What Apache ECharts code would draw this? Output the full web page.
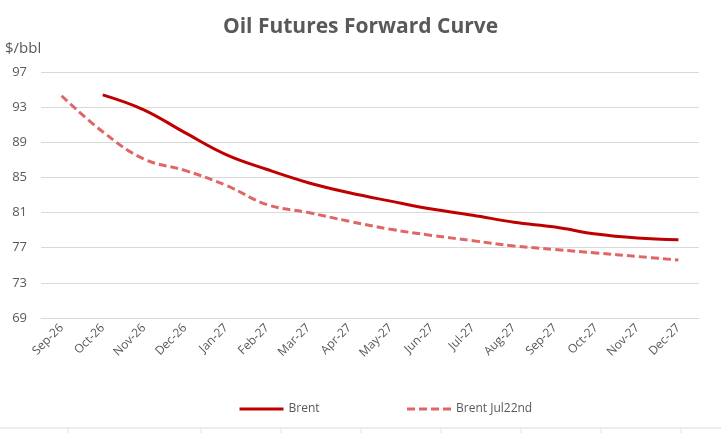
<!DOCTYPE html>
<html>
<head>
<meta charset="utf-8">
<script src="https://cdn.jsdelivr.net/npm/echarts@6/dist/echarts.min.js"></script>
<style>
    html, body { margin: 0; padding: 0; background: #fff; }
    #chart { width: 721px; height: 433px; }
</style>
</head>
<body>
<div id="chart"></div>
<script>
const months = ['Sep-26', 'Oct-26', 'Nov-26', 'Dec-26', 'Jan-27', 'Feb-27', 'Mar-27', 'Apr-27',
    'May-27', 'Jun-27', 'Jul-27', 'Aug-27', 'Sep-27', 'Oct-27', 'Nov-27', 'Dec-27'];
const brent = [null, 94.4, 92.7, 90.1, 87.6, 85.9, 84.4, 83.25, 82.3, 81.4, 80.7, 79.9, 79.35, 78.55, 78.1, 77.9];
const brentJul22 = [94.3, 90.2, 87.1, 85.8, 84.1, 81.9, 81.0, 80.0, 79.1, 78.4, 77.8, 77.2, 76.8, 76.4, 76.0, 75.6];

const font = "'Open Sans', 'Noto Sans', sans-serif";
const grey = '#595959';

// sheet cell borders peeking in under the chart
const cellEdges = [68, 201, 281, 361, 441, 521, 601, 681];

const chart = echarts.init(document.getElementById('chart'));

chart.setOption({
    animation: false,
    backgroundColor: '#fff',
    title: [
        {
            text: 'Oil Futures Forward Curve',
            left: 'center',
            top: 12,
            textStyle: { color: grey, fontSize: 21, fontWeight: 'bold', fontFamily: font }
        },
        {
            text: '$/bbl',
            left: 0,
            top: 36,
            textStyle: { color: grey, fontSize: 15, fontWeight: 'normal', fontFamily: font }
        }
    ],
    legend: {
        left: 233,
        top: 398,
        itemWidth: 44,
        itemHeight: 10,
        itemGap: 86,
        itemStyle: { opacity: 0 },
        lineStyle: { width: 3 },
        textStyle: { color: grey, fontSize: 12, fontFamily: font },
        data: ['Brent', 'Brent Jul22nd']
    },
    grid: { left: 41, right: 22, top: 72, bottom: 115 },
    xAxis: {
        type: 'category',
        data: months,
        boundaryGap: true,
        axisLine: { show: true, lineStyle: { color: '#D9D9D9' } },
        axisTick: { show: false },
        axisLabel: {
            interval: 0,
            rotate: 45,
            margin: 8,
            color: grey,
            fontSize: 12,
            fontFamily: font
        }
    },
    yAxis: {
        type: 'value',
        min: 69,
        max: 97,
        interval: 4,
        axisLine: { show: false },
        axisTick: { show: false },
        axisLabel: { margin: 14, color: grey, fontSize: 13, fontFamily: font },
        splitLine: { lineStyle: { color: '#D9D9D9', width: 1 } }
    },
    series: [
        {
            name: 'Brent',
            type: 'line',
            data: brent,
            smooth: 0.4,
            symbol: 'none',
            color: '#C00000',
            lineStyle: { color: '#C00000', width: 3 }
        },
        {
            name: 'Brent Jul22nd',
            type: 'line',
            data: brentJul22,
            smooth: 0.4,
            symbol: 'none',
            color: '#E06666',
            lineStyle: { color: '#E06666', width: 3, type: [8, 4] }
        }
    ],
    graphic: [
        {
            type: 'line',
            shape: { x1: 0, y1: 428, x2: 721, y2: 428 },
            style: { stroke: '#D9D9D9', lineWidth: 1 }
        },
        ...cellEdges.map(x => ({
            type: 'line',
            shape: { x1: x, y1: 428, x2: x, y2: 433 },
            style: { stroke: '#E3E3E3', lineWidth: 1 }
        }))
    ]
});
</script>
</body>
</html>
